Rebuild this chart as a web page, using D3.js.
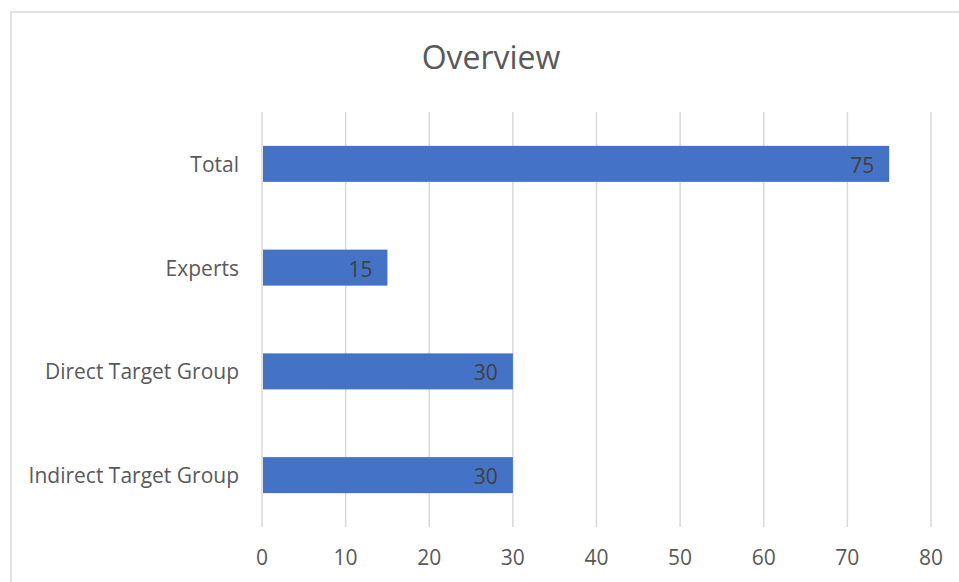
<!DOCTYPE html>
<html>
<head>
<meta charset="utf-8">
<script src="https://cdn.jsdelivr.net/npm/d3@7"></script>
<style>
  body { margin: 0; background: #fff; }
  text { font-family: "Open Sans", "Noto Sans", sans-serif; }
</style>
</head>
<body>
<div id="chart"></div>
<script>
// 資料
const categories = ["Total", "Experts", "Direct Target Group", "Indirect Target Group"];
const values = [75, 15, 30, 30];
const xTicks = [0, 10, 20, 30, 40, 50, 60, 70, 80];

const width = 959, height = 582;
const margin = { left: 262, right: 29, top: 112, bottom: 55 };

const svg = d3.select("#chart").append("svg")
  .attr("width", width)
  .attr("height", height);

// 外框
svg.append("rect")
  .attr("x", 11).attr("y", 12)
  .attr("width", width + 20).attr("height", height + 20)
  .attr("fill", "none")
  .attr("stroke", "#d9d9d9")
  .attr("stroke-width", 1.5);

const x = d3.scaleLinear()
  .domain([0, 80])
  .range([margin.left, width - margin.right + 1]);

const y = d3.scaleBand()
  .domain(categories)
  .range([margin.top, height - margin.bottom])
  .paddingInner(0.653)
  .paddingOuter(0.3265);

// 格線
svg.append("g")
  .selectAll("line")
  .data(xTicks)
  .enter()
  .append("line")
  .attr("x1", d => x(d)).attr("x2", d => x(d))
  .attr("y1", margin.top).attr("y2", height - margin.bottom)
  .attr("stroke", "#d9d9d9")
  .attr("stroke-width", 1.5);

// 長條
svg.append("g")
  .selectAll("rect")
  .data(values)
  .enter()
  .append("rect")
  .attr("x", x(0) + 1)
  .attr("y", (d, i) => y(categories[i]))
  .attr("width", d => x(d) - x(0) - 1)
  .attr("height", y.bandwidth())
  .attr("fill", "#4472c4");

// 數值標籤
svg.append("g")
  .selectAll("text")
  .data(values)
  .enter()
  .append("text")
  .attr("x", d => x(d) - 15)
  .attr("y", (d, i) => y(categories[i]) + y.bandwidth() / 2 + 1)
  .attr("text-anchor", "end")
  .attr("dominant-baseline", "central")
  .attr("font-size", 21)
  .attr("fill", "#404040")
  .text(d => d);

// 類別標籤
svg.append("g")
  .selectAll("text")
  .data(categories)
  .enter()
  .append("text")
  .attr("x", x(0) - 23)
  .attr("y", d => y(d) + y.bandwidth() / 2)
  .attr("text-anchor", "end")
  .attr("dominant-baseline", "central")
  .attr("font-size", 21)
  .attr("fill", "#595959")
  .text(d => d);

// X 軸刻度
svg.append("g")
  .selectAll("text")
  .data(xTicks)
  .enter()
  .append("text")
  .attr("x", d => x(d))
  .attr("y", 557)
  .attr("text-anchor", "middle")
  .attr("dominant-baseline", "central")
  .attr("font-size", 21)
  .attr("fill", "#595959")
  .text(d => d);

// 標題
svg.append("text")
  .attr("x", 491)
  .attr("y", 56)
  .attr("text-anchor", "middle")
  .attr("dominant-baseline", "central")
  .attr("font-size", 32)
  .attr("fill", "#595959")
  .text("Overview");
</script>
</body>
</html>
